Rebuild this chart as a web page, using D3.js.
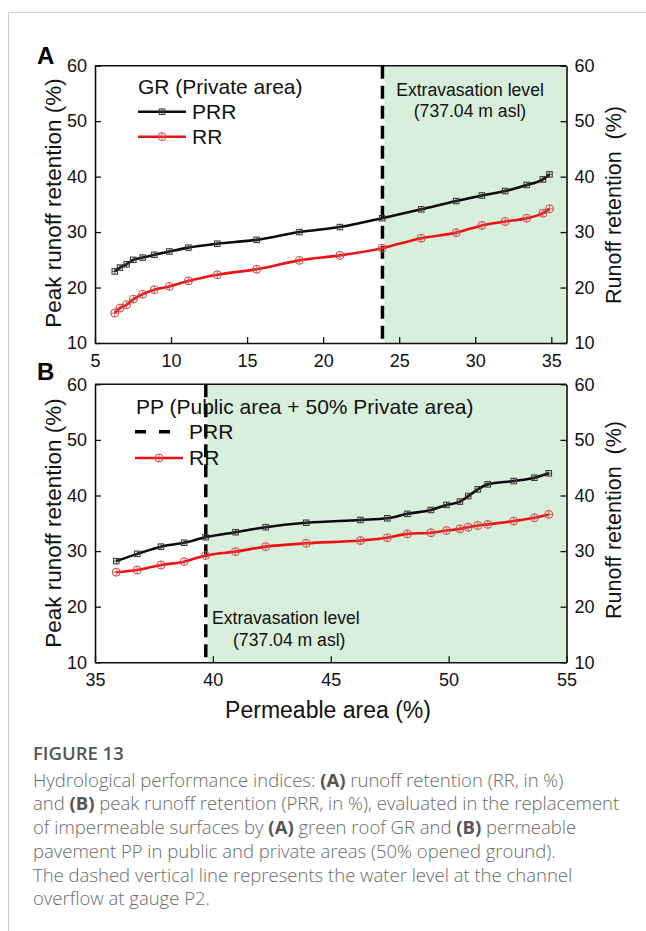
<!DOCTYPE html>
<html><head><meta charset="utf-8">
<script src="https://cdn.jsdelivr.net/npm/d3@7"></script>
<style>
html,body{margin:0;padding:0;background:#fff;}
svg{display:block;}
</style></head>
<body>
<svg id="c" width="646" height="931"></svg>
<script>
// ---- Data ----
const xA = [6.3, 6.64, 7.08, 7.52, 8.13, 8.9, 9.89, 11.14, 13.04, 15.63, 18.44, 21.1, 23.88, 26.45, 28.75, 30.44, 31.97, 33.38, 34.45, 34.88];
const prrA = [22.9, 23.6, 24.2, 25.0, 25.4, 25.9, 26.5, 27.2, 27.9, 28.6, 30.0, 30.9, 32.5, 34.1, 35.6, 36.6, 37.4, 38.5, 39.5, 40.4];
const rrA = [15.4, 16.3, 16.9, 17.9, 18.8, 19.6, 20.2, 21.2, 22.3, 23.3, 24.9, 25.8, 27.1, 28.9, 29.9, 31.2, 31.9, 32.5, 33.4, 34.2];
const xB = [35.9, 36.79, 37.8, 38.78, 39.69, 40.96, 42.24, 43.96, 46.26, 47.4, 48.25, 49.25, 49.91, 50.48, 50.83, 51.24, 51.66, 52.76, 53.64, 54.25];
const prrB = [28.2, 29.5, 30.8, 31.5, 32.5, 33.4, 34.3, 35.1, 35.6, 35.9, 36.7, 37.4, 38.3, 38.9, 39.9, 41.1, 42.0, 42.6, 43.2, 44.0];
const rrB = [26.2, 26.6, 27.5, 28.1, 29.2, 29.9, 30.8, 31.4, 31.9, 32.4, 33.1, 33.3, 33.7, 34.0, 34.3, 34.6, 34.8, 35.4, 36.0, 36.6];
const xTicksA = [5, 10, 15, 20, 25, 30, 35];
const xTicksB = [35, 40, 45, 50, 55];
const yTicks = [10, 20, 30, 40, 50, 60];
const levelA = 23.9;
const levelB = 39.7;

const svg = d3.select("#c");
const FONT = "'Liberation Sans', Arial, sans-serif";
const GREEN = "#d8efdc";

// frame lines of the figure card
svg.append("line").attr("x1",8).attr("x2",646).attr("y1",12.5).attr("y2",12.5).attr("stroke","#d0d0d0").attr("stroke-width",1);
svg.append("line").attr("x1",8.5).attr("x2",8.5).attr("y1",12).attr("y2",931).attr("stroke","#d0d0d0").attr("stroke-width",1);

function panel(cfg){
  const g = svg.append("g");
  const x = d3.scaleLinear().domain(cfg.xDomain).range([95, 566.5]);
  const y = d3.scaleLinear().domain([10, 60]).range([cfg.bottom, cfg.top]);
  // green region
  g.append("rect").attr("x", x(cfg.level)+2).attr("y", cfg.top)
    .attr("width", x.range()[1]-x(cfg.level)-2).attr("height", cfg.bottom-cfg.top)
    .attr("fill", GREEN);
  // axes
  const ax = g.append("g").attr("transform",`translate(0,${cfg.bottom})`)
    .call(d3.axisBottom(x).tickValues(cfg.xTicks).tickSizeInner(-6).tickSizeOuter(0).tickPadding(11));
  const ayl = g.append("g").attr("transform",`translate(95,0)`)
    .call(d3.axisLeft(y).tickValues(yTicks).tickSizeInner(-6).tickSizeOuter(0).tickPadding(8));
  const ayr = g.append("g").attr("transform",`translate(566.5,0)`)
    .call(d3.axisRight(y).tickValues(yTicks).tickSizeInner(-6).tickSizeOuter(0).tickPadding(8));
  [ax, ayl, ayr].forEach(a=>{
    a.selectAll("text").attr("font-family",FONT).attr("font-size",18).attr("fill","#111");
    a.selectAll(".tick line").attr("stroke","#111").attr("stroke-width",1.3);
    a.select(".domain").attr("stroke","#111").attr("stroke-width",1.6);
  });
  // top border
  g.append("line").attr("x1",95).attr("x2",566.5).attr("y1",cfg.top).attr("y2",cfg.top)
    .attr("stroke","#111").attr("stroke-width",1.6);
  // vertical dashed line
  g.append("line").attr("x1",x(cfg.level)).attr("x2",x(cfg.level))
    .attr("y1",cfg.top).attr("y2",cfg.bottom)
    .attr("stroke","#000").attr("stroke-width",3.5).attr("stroke-dasharray","13,7");
  // series
  const line = (xs, ys) => d3.line().curve(d3.curveMonotoneX)
    .x((d,i)=>x(xs[i])).y(d=>y(d))(ys);
  g.append("path").attr("d", line(cfg.xs, cfg.rr)).attr("fill","none")
    .attr("stroke","#ee1111").attr("stroke-width",2.6);
  g.append("path").attr("d", line(cfg.xs, cfg.prr)).attr("fill","none")
    .attr("stroke","#0b0b0b").attr("stroke-width",2.6);
  // markers
  cfg.rr.forEach((v,i)=>circMarker(g, x(cfg.xs[i]), y(v)));
  cfg.prr.forEach((v,i)=>sqMarker(g, x(cfg.xs[i]), y(v)));
  // axis titles
  g.append("text").attr("transform",`translate(61,${cfg.lt}) rotate(-90)`)
    .attr("text-anchor","middle").attr("font-family",FONT).attr("font-size",22.5).attr("fill","#111")
    .text("Peak runoff retention (%)");
  g.append("text").attr("transform",`translate(621,${cfg.rt}) rotate(-90)`)
    .attr("text-anchor","middle").attr("font-family",FONT).attr("font-size",21.5).attr("fill","#111")
    .style("white-space","pre")
    .text("Runoff retention  (%)");
  // panel letter
  g.append("text").attr("x",37).attr("y",cfg.letterY).attr("font-family",FONT)
    .attr("font-weight","bold").attr("font-size",24).attr("fill","#000").text(cfg.letter);
  return {g,x,y};
}

function sqMarker(g, cx, cy){
  const s = 5.5;
  g.append("rect").attr("x",cx-s/2).attr("y",cy-s/2).attr("width",s).attr("height",s)
    .attr("fill","none").attr("stroke","#333").attr("stroke-width",1);
  g.append("path").attr("d",`M${cx-s/2},${cy}H${cx+s/2}M${cx},${cy-s/2}V${cy+s/2}`)
    .attr("stroke","#333").attr("stroke-width",0.8);
}
function circMarker(g, cx, cy){
  const r = 4;
  g.append("circle").attr("cx",cx).attr("cy",cy).attr("r",r)
    .attr("fill","none").attr("stroke","#d04848").attr("stroke-width",1);
  g.append("path").attr("d",`M${cx-r},${cy}H${cx+r}M${cx},${cy-r}V${cy+r}`)
    .attr("stroke","#d04848").attr("stroke-width",0.8);
}

const A = panel({xDomain:[5,36], xTicks:xTicksA, top:65.7, bottom:343, level:levelA,
  xs:xA, prr:prrA, rr:rrA, lt:203, rt:205, letter:"A", letterY:64});
const B = panel({xDomain:[35,55], xTicks:xTicksB, top:384.3, bottom:662.3, level:levelB,
  xs:xB, prr:prrB, rr:rrB, lt:523, rt:520, letter:"B", letterY:380});

// Legend A
function txt(x,y,s,size,anchor){
  return svg.append("text").attr("x",x).attr("y",y).attr("font-family",FONT)
    .attr("font-size",size).attr("fill","#111").attr("text-anchor",anchor||"start").text(s);
}
txt(138,94,"GR (Private area)",21);
svg.append("line").attr("x1",138).attr("x2",186).attr("y1",111.7).attr("y2",111.7).attr("stroke","#0b0b0b").attr("stroke-width",2.6);
sqMarker(svg,162,111.7);
txt(192,119,"PRR",21);
svg.append("line").attr("x1",138).attr("x2",186).attr("y1",136.7).attr("y2",136.7).attr("stroke","#ee1111").attr("stroke-width",2.6);
circMarker(svg,162,136.7);
txt(192,144,"RR",21);
txt(470,95.5,"Extravasation level",17.6,"middle");
txt(470,117,"(737.04 m asl)",17.6,"middle");

// Legend B
txt(136,414,"PP (Public area + 50% Private area)",21);
svg.append("line").attr("x1",135).attr("x2",182).attr("y1",431.7).attr("y2",431.7)
  .attr("stroke","#000").attr("stroke-width",3.5).attr("stroke-dasharray","11,13");
txt(189,439,"PRR",21);
svg.append("line").attr("x1",135).attr("x2",183).attr("y1",458).attr("y2",458).attr("stroke","#ee1111").attr("stroke-width",2.6);
circMarker(svg,159,458);
txt(189,465,"RR",21);
txt(212,623.5,"Extravasation level",17.6);
txt(233,645.5,"(737.04 m asl)",17.6);

// x-axis title
txt(328,718,"Permeable area (%)",23,"middle");

// Caption
const CF = "'Open Sans', 'Noto Sans', sans-serif";
svg.append("text").attr("x",33).attr("y",760).attr("font-family",CF).attr("font-size",18.5)
  .attr("font-weight",600).attr("fill","#555").text("FIGURE 13");
const cap = [
  [["Hydrological performance indices: ",0],["(A)",1],[" runoff retention (RR, in %)",0]],
  [["and ",0],["(B)",1],[" peak runoff retention (PRR, in %), evaluated in the replacement",0]],
  [["of impermeable surfaces by ",0],["(A)",1],[" green roof GR and ",0],["(B)",1],[" permeable",0]],
  [["pavement PP in public and private areas (50% opened ground).",0]],
  [["The dashed vertical line represents the water level at the channel",0]],
  [["overflow at gauge P2.",0]]
];
cap.forEach((ln,i)=>{
  const t = svg.append("text").attr("x",33).attr("y",786.7+i*23.7).attr("font-family",CF)
    .attr("font-size",18.5).attr("fill","#6a6a6a").attr("font-weight",300);
  ln.forEach(([s,b])=>{
    t.append("tspan").attr("font-weight",b?700:300).attr("fill",b?"#555":"#6a6a6a").text(s);
  });
});
</script>
</body></html>
